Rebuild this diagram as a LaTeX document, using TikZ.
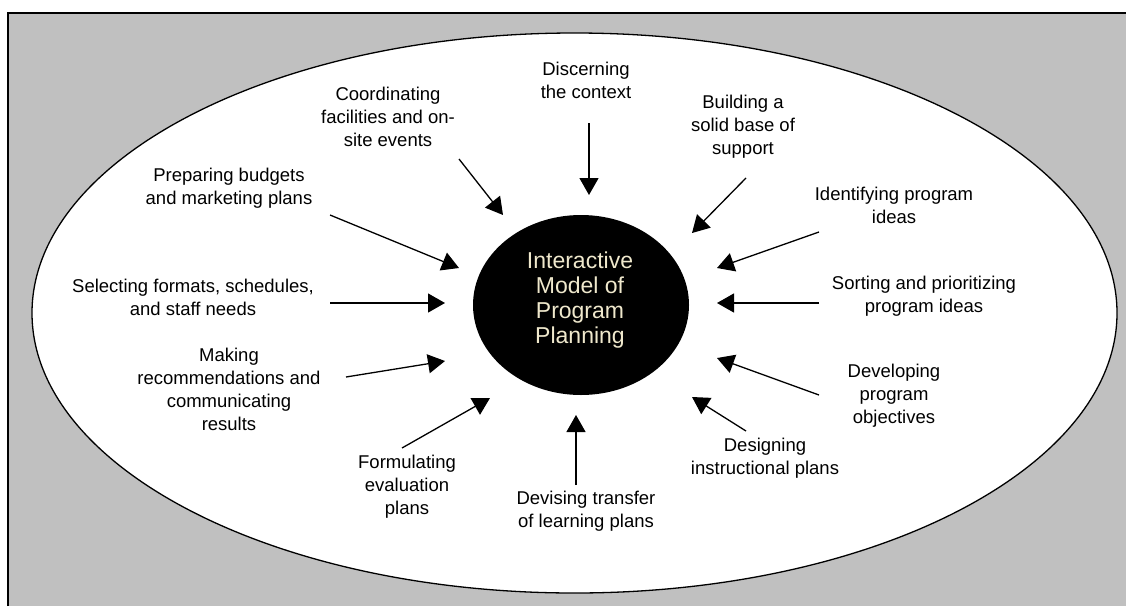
\documentclass[tikz,border=0pt]{standalone}
\usepackage{fontspec}
\setmainfont{Liberation Sans}
\usetikzlibrary{shapes.geometric,arrows.meta}
\definecolor{framegray}{HTML}{C0C0C0}
\definecolor{cream}{HTML}{EFE8CC}
\tikzset{
  lbl/.style={align=center,inner sep=0pt,font=\fontsize{18.5}{23}\selectfont},
  arr/.style={line width=1.3pt,-{Triangle[length=17pt,width=19pt]}},
}
\begin{document}
\begin{tikzpicture}[x=1pt,y=-1pt]
\useasboundingbox (0,0) rectangle (1126,606);
\fill[white] (0,0) rectangle (1126,606);
\fill[framegray] (8,13) rectangle (1126,606);
\draw[line width=1.5pt] (8,606) -- (8,13) -- (1126,13);
\node[ellipse,draw,line width=1.3pt,fill=white,minimum width=1085pt,minimum height=560pt,inner sep=0pt] (outer) at (574.5,313) {};
\node[ellipse,fill=black,minimum width=216pt,minimum height=180pt,inner sep=0pt] (core) at (581,305) {};
\node[align=center,inner sep=0pt,text=cream,font=\fontsize{23}{25}\selectfont] (title) at (580,299.6) {Interactive\\Model of\\Program\\Planning};

% labels
\node[lbl] (l1) at (586,80) {Discerning\\the context};
\node[lbl] (l2) at (388,117) {Coordinating\\facilities and on-\\site events};
\node[lbl] (l3) at (743,127) {Building a\\solid base of\\support};
\node[lbl] (l4) at (229,188) {Preparing budgets\\and marketing plans};
\node[lbl] (l5) at (894,205) {Identifying program\\ideas};
\node[lbl] (l6) at (193,297) {Selecting formats, schedules,\\and staff needs};
\node[lbl] (l7) at (924,296) {Sorting and prioritizing\\program ideas};
\node[lbl] (l8) at (229,389) {Making\\recommendations and\\communicating\\results};
\node[lbl] (l9) at (894,396) {Developing\\program\\objectives};
\node[lbl] (l10) at (765,458) {Designing\\instructional plans};
\node[lbl] (l11) at (407,487) {Formulating\\evaluation\\plans};
\node[lbl] (l12) at (586,511) {Devising transfer\\of learning plans};

% arrow ends
\coordinate (s1) at (589,123);  \coordinate (t1) at (589,195);
\coordinate (s2) at (459,159);  \coordinate (t2) at (503,215);
\coordinate (s3) at (746,178);  \coordinate (t3) at (692,233);
\coordinate (s4) at (330,215);  \coordinate (t4) at (459,268);
\coordinate (s5) at (819,232);  \coordinate (t5) at (717,268);
\coordinate (s6) at (330,303);  \coordinate (t6) at (445,303);
\coordinate (s7) at (819,303);  \coordinate (t7) at (717,303);
\coordinate (s8) at (346,377);  \coordinate (t8) at (445,361);
\coordinate (s9) at (819,395);  \coordinate (t9) at (717,358);
\coordinate (s10) at (746,431); \coordinate (t10) at (692,397);
\coordinate (s11) at (402,448); \coordinate (t11) at (490,398);
\coordinate (s12) at (576,485); \coordinate (t12) at (576,415);
\foreach \i in {1,...,12} {\draw[arr] (s\i) -- (t\i);}
\end{tikzpicture}
\end{document}
